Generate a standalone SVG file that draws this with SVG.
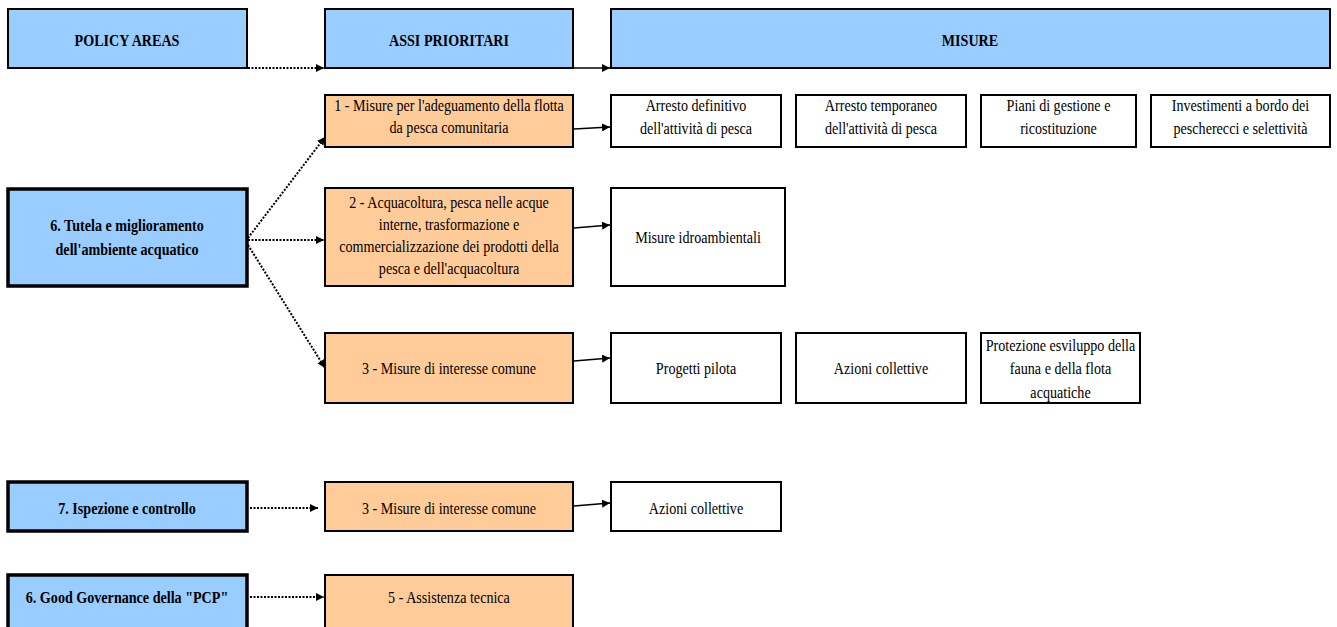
<svg xmlns="http://www.w3.org/2000/svg" width="1337" height="627" viewBox="0 0 1337 627">
<style>
.blue{fill:#99CCFF;stroke:#000;stroke-width:2}
.bluek{fill:#99CCFF;stroke:#000;stroke-width:3.5}
.or{fill:#FFCC99;stroke:#000;stroke-width:2}
.wh{fill:#FFFFFF;stroke:#000;stroke-width:2}
text{font-family:"Liberation Serif","Times New Roman",serif;font-size:17px;text-anchor:middle;fill:#000}
.b{font-weight:bold}
.dot{fill:none;stroke:#000;stroke-width:2;stroke-dasharray:2 1.5;marker-end:url(#ah)}
.sol{fill:none;stroke:#000;stroke-width:1.5;marker-end:url(#ah)}
</style>
<defs>
<marker id="ah" viewBox="0 0 10 10" refX="10" refY="5" markerWidth="8" markerHeight="8" markerUnits="userSpaceOnUse" orient="auto">
<path d="M0,0 L10,5 L0,10 z" fill="#000"/>
</marker>
</defs>
<rect width="1337" height="627" fill="#fff"/>
<g id="connectors">
<path class="dot" d="M248,68 L324,68"/>
<path class="sol" d="M574,68 L610,68"/>
<path class="dot" d="M248,238 L325,137"/>
<path class="dot" d="M248,240 L324,240"/>
<path class="dot" d="M248,245 L325,368"/>
<path class="sol" d="M574,129 L610,127"/>
<path class="sol" d="M574,228 L610,225"/>
<path class="sol" d="M574,361 L610,358"/>
<path class="dot" d="M250,508 L318,508"/>
<path class="sol" d="M574,506 L610,503"/>
<path class="dot" d="M250,597 L324,597"/>
</g>
<g id="h-policy"><rect class="blue" x="8" y="9" width="239" height="59"/><text class="b" transform="translate(127 0) scale(0.83 1)" x="0" y="46">POLICY AREAS</text></g>
<g id="h-assi"><rect class="blue" x="325" y="9" width="248" height="59"/><text class="b" transform="translate(449 0) scale(0.83 1)" x="0" y="46">ASSI PRIORITARI</text></g>
<g id="h-misure"><rect class="blue" x="611" y="9" width="719" height="59"/><text class="b" transform="translate(970 0) scale(0.83 1)" x="0" y="46">MISURE</text></g>

<g id="p-tutela"><rect class="bluek" x="8" y="189" width="239" height="97"/><text class="b" transform="translate(127 0) scale(0.83 1)"><tspan x="0" y="231">6. Tutela e miglioramento</tspan><tspan x="0" y="255">dell'ambiente acquatico</tspan></text></g>

<g id="a1"><rect class="or" x="325" y="95" width="248" height="52"/><text transform="translate(449 0) scale(0.83 1)"><tspan x="0" y="111">1 - Misure per l'adeguamento della flotta</tspan><tspan x="0" y="133">da pesca comunitaria</tspan></text></g>
<g id="m1a"><rect class="wh" x="611" y="95" width="170" height="52"/><text transform="translate(696 0) scale(0.83 1)"><tspan x="0" y="111">Arresto definitivo</tspan><tspan x="0" y="134">dell'attività di pesca</tspan></text></g>
<g id="m1b"><rect class="wh" x="796" y="95" width="170" height="52"/><text transform="translate(881 0) scale(0.83 1)"><tspan x="0" y="111">Arresto temporaneo</tspan><tspan x="0" y="134">dell'attività di pesca</tspan></text></g>
<g id="m1c"><rect class="wh" x="981" y="95" width="155" height="52"/><text transform="translate(1058.5 0) scale(0.83 1)"><tspan x="0" y="111">Piani di gestione e</tspan><tspan x="0" y="134">ricostituzione</tspan></text></g>
<g id="m1d"><rect class="wh" x="1151" y="95" width="179" height="52"/><text transform="translate(1240.5 0) scale(0.83 1)"><tspan x="0" y="111">Investimenti a bordo dei</tspan><tspan x="0" y="134">pescherecci e selettività</tspan></text></g>

<g id="a2"><rect class="or" x="325" y="188" width="248" height="98"/><text transform="translate(449 0) scale(0.83 1)"><tspan x="0" y="208">2 - Acquacoltura, pesca nelle acque</tspan><tspan x="0" y="230">interne, trasformazione e</tspan><tspan x="0" y="252">commercializzazione dei prodotti della</tspan><tspan x="0" y="274">pesca e dell'acquacoltura</tspan></text></g>
<g id="m2a"><rect class="wh" x="611" y="188" width="174" height="98"/><text transform="translate(698 0) scale(0.83 1)" x="0" y="243">Misure idroambientali</text></g>

<g id="a3"><rect class="or" x="325" y="333" width="248" height="70"/><text transform="translate(449 0) scale(0.83 1)" x="0" y="374">3 - Misure di interesse comune</text></g>
<g id="m3a"><rect class="wh" x="611" y="333" width="170" height="70"/><text transform="translate(696 0) scale(0.83 1)" x="0" y="374">Progetti pilota</text></g>
<g id="m3b"><rect class="wh" x="796" y="333" width="170" height="70"/><text transform="translate(881 0) scale(0.83 1)" x="0" y="374">Azioni collettive</text></g>
<g id="m3c"><rect class="wh" x="981" y="333" width="159" height="70"/><text transform="translate(1060.5 0) scale(0.83 1)"><tspan x="0" y="351">Protezione esviluppo della</tspan><tspan x="0" y="374">fauna e della flota</tspan><tspan x="0" y="398">acquatiche</tspan></text></g>

<g id="p-ispezione"><rect class="bluek" x="8" y="482" width="239" height="49"/><text class="b" transform="translate(127 0) scale(0.83 1)" x="0" y="514">7. Ispezione e controllo</text></g>
<g id="a3b"><rect class="or" x="325" y="482" width="248" height="49"/><text transform="translate(449 0) scale(0.83 1)" x="0" y="514">3 - Misure di interesse comune</text></g>
<g id="m4a"><rect class="wh" x="611" y="482" width="170" height="49"/><text transform="translate(696 0) scale(0.83 1)" x="0" y="514">Azioni collettive</text></g>

<g id="p-governance"><rect class="bluek" x="8" y="575" width="239" height="60"/><text class="b" transform="translate(127 0) scale(0.83 1)" x="0" y="603">6. Good Governance della "PCP"</text></g>
<g id="a5"><rect class="or" x="325" y="575" width="248" height="60"/><text transform="translate(449 0) scale(0.83 1)" x="0" y="603">5 - Assistenza tecnica</text></g>
</svg>
